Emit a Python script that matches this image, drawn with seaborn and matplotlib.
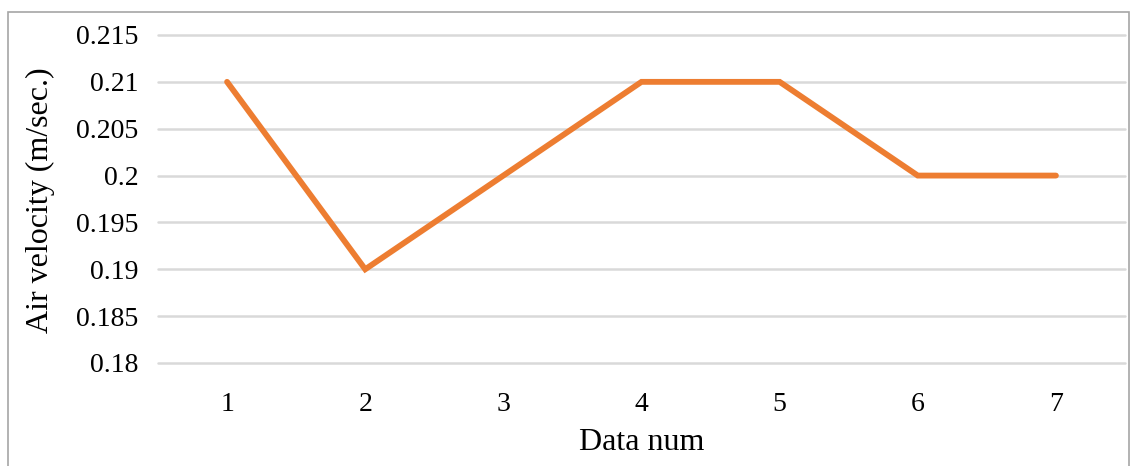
import numpy as np
import pandas as pd
import matplotlib.pyplot as plt
import matplotlib.patches as patches
import seaborn as sns

# data
data_num = [1, 2, 3, 4, 5, 6, 7]
air_velocity = [0.21, 0.19, 0.20, 0.21, 0.21, 0.20, 0.20]
y_ticks = [0.18, 0.185, 0.19, 0.195, 0.2, 0.205, 0.21, 0.215]
y_tick_labels = ['0.18', '0.185', '0.19', '0.195', '0.2', '0.205', '0.21', '0.215']

df = pd.DataFrame({'Data num': data_num, 'Air velocity': air_velocity})

sns.set_style("white")
plt.rcParams['font.family'] = ['Liberation Serif', 'DejaVu Serif']

W, H = 1132, 466
fig = plt.figure(figsize=(W / 100, H / 100), dpi=100)
ax = fig.add_axes([158 / W, 1 - 363 / H, (1125 - 158) / W, (363 - 35) / H])

sns.lineplot(data=df, x='Data num', y='Air velocity', ax=ax,
             color='#ED7D31', linewidth=4.2, solid_joinstyle='miter')

ax.set_xlim(0.5, 7.5)
ax.set_ylim(0.18, 0.215)
ax.set_xticks(data_num)
ax.set_xticklabels([str(v) for v in data_num])
ax.set_yticks(y_ticks)
ax.set_yticklabels(y_tick_labels)
ax.yaxis.grid(True, color='#D9D9D9', linewidth=1.8)
ax.set_axisbelow(True)
for gl in ax.get_ygridlines():
    gl.set_clip_on(False)
for s in ['left', 'right', 'top', 'bottom']:
    ax.spines[s].set_visible(False)
ax.tick_params(axis='both', length=0, labelsize=20, colors='#000000')
ax.tick_params(axis='y', pad=14)
ax.tick_params(axis='x', pad=21)

ax.set_xlabel('Data num', fontsize=23, color='#000000')
ax.set_ylabel('Air velocity (m/sec.)', fontsize=23, color='#000000')
ax.xaxis.label.set_va('center')
ax.yaxis.label.set_va('center')
ax.xaxis.set_label_coords(0.5, (363 - 443) / 328)
ax.yaxis.set_label_coords((40 - 158) / 967, (363 - 200) / 328)

# outer chart border
fig.patches.append(patches.Rectangle((8 / W, -0.1), (1129 - 8) / W, 1.1 - 12 / H,
                                     transform=fig.transFigure, fill=False,
                                     edgecolor='#A6A6A6', linewidth=1.2))

fig.savefig('out.png', dpi=100)
